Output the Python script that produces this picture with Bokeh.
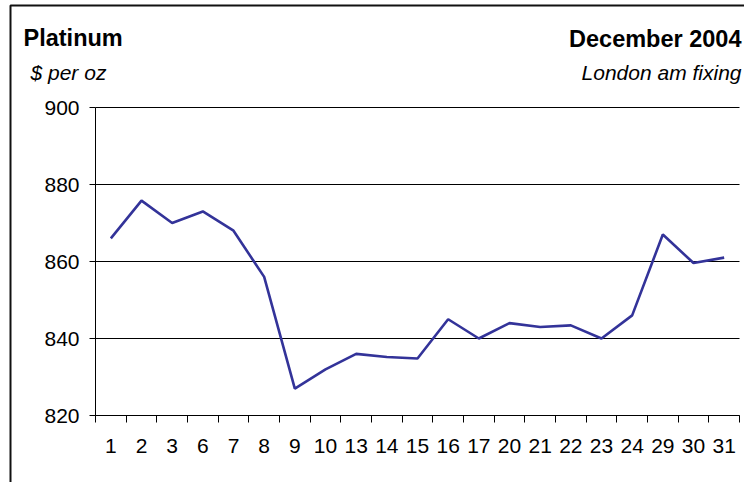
from bokeh.plotting import figure
from bokeh.models import FixedTicker, Label, Range1d, LinearAxis
from bokeh.embed import file_html
from bokeh.resources import INLINE

# Data
days = ["1", "2", "3", "6", "7", "8", "9", "10", "13", "14", "15",
        "16", "17", "20", "21", "22", "23", "24", "29", "30", "31"]
price = [866, 875.8, 870, 873, 868, 856, 827, 832, 836, 835.2, 834.8,
         845, 840, 844, 843, 843.4, 840, 846, 867, 859.6, 861]
y_ticks = [820, 840, 860, 880, 900]

FONT = "Liberation Sans"
W, H = 744, 482
n = len(days)
xs = [i + 0.5 for i in range(n)]

# pixel layout of the plotting area (canvas pixels)
PL, PR, PT, PB = 95, 739, 107, 415
ymin, ymax = y_ticks[0], y_ticks[-1]
sx = (PR - PL) / n
sy = (PB - PT) / (ymax - ymin)


def dx(px):
    return (px - PL) / sx


def dy(py):
    return ymax - (py - PT) / sy


p = figure(width=W, height=H, output_backend="svg", toolbar_location=None,
           x_range=Range1d(dx(0), dx(W)), y_range=Range1d(dy(H), dy(0)),
           x_axis_location=None, y_axis_location=None, min_border=0)
p.outline_line_color = None
p.background_fill_color = "white"
p.border_fill_color = "white"
p.grid.visible = False

# outer chart border (left and top edges fall inside the window)
p.line([dx(10), dx(10), dx(W + 50)], [dy(H + 50), dy(5), dy(5)],
       line_color="#111111", line_width=2)

# horizontal gridlines across the plotting area
p.segment(x0=[0] * len(y_ticks), x1=[n] * len(y_ticks), y0=y_ticks, y1=y_ticks,
          line_color="black", line_width=1)

p.line(xs, price, line_color="#333399", line_width=2.6)

# x axis: labels at category centers, ticks at boundaries
xa = LinearAxis(fixed_location=ymin, bounds=(0, n))
xa.ticker = FixedTicker(ticks=xs, minor_ticks=list(range(n + 1)))
xa.major_label_overrides = {x: d for x, d in zip(xs, days)}
xa.major_tick_out = 0
xa.major_tick_in = 0
xa.minor_tick_out = 7
xa.minor_tick_in = 0
xa.minor_tick_line_color = "black"
xa.axis_line_color = "black"
xa.major_label_text_font = FONT
xa.major_label_text_font_size = "21px"
xa.major_label_text_color = "black"
xa.major_label_standoff = 16
p.add_layout(xa, "below")

ya = LinearAxis(fixed_location=0, bounds=(ymin, ymax))
ya.ticker = FixedTicker(ticks=y_ticks)
ya.major_tick_out = 6
ya.major_tick_in = 0
ya.minor_tick_out = 0
ya.minor_tick_in = 0
ya.axis_line_color = "black"
ya.major_tick_line_color = "black"
ya.major_label_text_font = FONT
ya.major_label_text_font_size = "21px"
ya.major_label_text_color = "black"
ya.major_label_standoff = 10
p.add_layout(ya, "left")

p.add_layout(Label(x=dx(23), y=dy(37), text="Platinum", text_font=FONT,
                   text_font_size="23.5px", text_font_style="bold",
                   text_color="black", text_baseline="alphabetic"))
p.add_layout(Label(x=dx(30), y=dy(72), text="$ per oz", text_font=FONT,
                   text_font_size="21px", text_font_style="italic",
                   text_color="black", text_baseline="alphabetic"))
p.add_layout(Label(x=dx(741), y=dy(38), text="December 2004", text_font=FONT,
                   text_font_size="23.5px", text_font_style="bold",
                   text_color="black", text_align="right",
                   text_baseline="alphabetic"))
p.add_layout(Label(x=dx(741), y=dy(72), text="London am fixing", text_font=FONT,
                   text_font_size="21px", text_font_style="italic",
                   text_color="black", text_align="right",
                   text_baseline="alphabetic"))

open("out.html", "w").write(file_html(p, INLINE))
